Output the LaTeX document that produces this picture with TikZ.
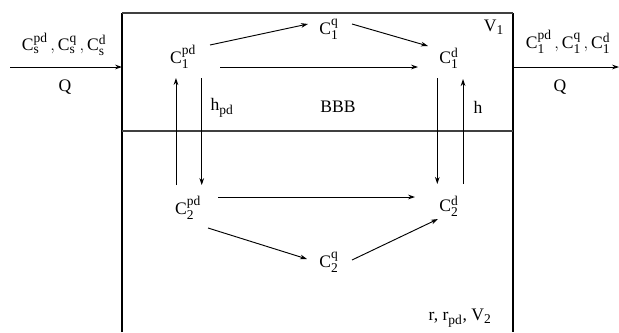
\documentclass[tikz,border=0pt]{standalone}
\usepackage{fontspec}
\setmainfont{Liberation Serif}
\usepackage{tikz}
\usetikzlibrary{positioning,calc,arrows.meta}

\DeclareMathSizes{15}{15}{11.5}{9}
\newcommand{\conc}[2]{\mathrm{C}_{\mathrm{#1}}^{\mathrm{#2}}}

\begin{document}
\begin{tikzpicture}[
    x=0.03cm, y=-0.03cm,
    every node/.style={font=\fontsize{15}{17}\selectfont, inner sep=1pt},
    wall/.style={black, line width=1.3pt},
    layer/.style={black!75, line width=0.9pt},
    flux/.style={->, >={Stealth[length=6pt,width=4pt]}, line width=0.8pt},
]
\useasboundingbox (0,0) rectangle (619,332);

% Reactor box: open at the bottom, split in two layers
\draw[wall] (122,332) -- (122,13);
\draw[wall] (513,13) -- (513,332);
\draw[layer] (122,13) -- (513,13);
\draw[layer] (122,131) -- (513,131);
\node (v1) at (494,27) {V$_{\mathrm{1}}$};
\node (bbb) at (338,107) {BBB};
\node (v2) at (460,318) {r, r$_{\mathrm{pd}}$, V$_{\mathrm{2}}$};

% Species in the upper layer
\node (c1pd) at (183,57) {$\conc{1}{pd}$};
\node (c1q) at (329,29) {$\conc{1}{q}$};
\node (c1d) at (449,58) {$\conc{1}{d}$};

% Species in the lower layer
\node (c2pd) at (188,208) {$\conc{2}{pd}$};
\node (c2q) at (329,262) {$\conc{2}{q}$};
\node (c2d) at (449,206) {$\conc{2}{d}$};

% Reactions
\draw[flux] ([shift={(27,-12)}]c1pd.center) -- ([shift={(-21,-5)}]c1q.center);
\draw[flux] ([shift={(23,-5)}]c1q.center) -- ([shift={(-21,-12)}]c1d.center);
\draw[flux] ([shift={(37,10)}]c1pd.center) -- ([shift={(-31,9)}]c1d.center);
\draw[flux] ([shift={(30,-11)}]c2pd.center) -- ([shift={(-34,-9)}]c2d.center);
\draw[flux] ([shift={(20,20)}]c2pd.center) -- ([shift={(-22,-3)}]c2q.center);
\draw[flux] ([shift={(23,-2)}]c2q.center) -- ([shift={(-11,13)}]c2d.center);

% Exchange between the layers
\draw[flux] ([xshift=-6]c1pd.south |- c2pd.north) ++(0,-10) -- ([xshift=-6]c1pd.south |- 0,78);
\draw[flux] ([xshift=16]c1pd.south |- 0,78) -- ([xshift=16]c1pd.south |- 0,185);
\draw[flux] ([xshift=-10]c1d.south |- 0,78) -- ([xshift=-10]c1d.south |- 0,184);
\draw[flux] ([xshift=12]c1d.south |- 0,184) -- ([xshift=12]c1d.south |- 0,79);
\node (hpd) at (222,108) {h$_{\mathrm{pd}}$};
\node (hd) at (478,107) {h};

% Inflow and outflow
\coordinate (in) at (10,67);
\coordinate (inwall) at (122,67);
\coordinate (outwall) at (513,67);
\coordinate (out) at (619,67);
\draw[flux] (in) -- (inwall);
\draw[flux] (outwall) -- (out);
\node (cin) at (64,44) {$\conc{s}{pd}\,,\conc{s}{q}\,,\conc{s}{d}$};
\node (qin) at (65,87) {Q};
\node (cout) at (568,42) {$\conc{1}{pd}\,,\conc{1}{q}\,,\conc{1}{d}$};
\node (qout) at (560,87) {Q};
\end{tikzpicture}
\end{document}
